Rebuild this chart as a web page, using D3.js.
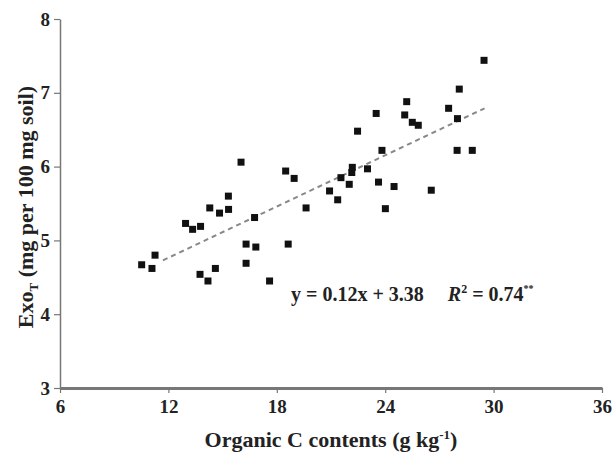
<!DOCTYPE html>
<html>
<head>
<meta charset="utf-8">
<script src="https://cdn.jsdelivr.net/npm/d3@7"></script>
<style>
  body { margin: 0; background: #fff; }
  text { font-family: "Liberation Serif", "Times New Roman", serif; font-weight: bold; }
</style>
</head>
<body>
<div id="plot"></div>
<script>
// Organic C (g/kg) vs Exo_T (mg per 100 mg soil)
var organicC = [10.52, 11.09, 11.26, 12.95, 13.34, 13.78, 13.75, 14.19, 14.60, 14.29,
                14.83, 15.33, 15.32, 16.02, 16.77, 16.30, 16.84, 16.30, 17.60, 18.63,
                18.49, 18.96, 19.62, 20.92, 21.37, 21.55, 22.01, 22.18, 22.15, 23.02,
                23.63, 24.49, 22.47, 23.82, 24.01, 26.55, 23.50, 25.08, 25.19, 25.50,
                25.83, 27.51, 28.00, 28.10, 29.47, 27.98, 28.82];
var exoT     = [4.67, 4.62, 4.80, 5.23, 5.15, 5.19, 4.54, 4.45, 4.62, 5.44,
                5.37, 5.42, 5.60, 6.06, 5.31, 4.95, 4.91, 4.69, 4.45, 4.95,
                5.94, 5.84, 5.44, 5.67, 5.55, 5.85, 5.76, 5.99, 5.92, 5.97,
                5.79, 5.73, 6.48, 6.22, 5.43, 5.68, 6.72, 6.70, 6.88, 6.60,
                6.56, 6.79, 6.65, 7.05, 7.44, 6.22, 6.22];
// fitted line as drawn (ends)
var fitX = [11.7, 29.5];
var fitY = [4.73, 6.79];
var xTicks = [6, 12, 18, 24, 30, 36];
var yTicks = [3, 4, 5, 6, 7, 8];

var width = 615, height = 455;
var margin = {top: 19, right: 13, bottom: 67, left: 60};

var svg = d3.select("#plot")
  .append("svg")
    .attr("width", width)
    .attr("height", height);

var x = d3.scaleLinear().domain([6, 36]).range([margin.left, width - margin.right]);
var y = d3.scaleLinear().domain([3, 8]).range([height - margin.bottom, margin.top]);

// Y axis
var yAxis = svg.append("g")
  .attr("transform", `translate(${margin.left},0)`)
  .call(d3.axisLeft(y).tickValues(yTicks).tickFormat(d3.format("d"))
    .tickSize(6).tickSizeOuter(0).tickPadding(4));
yAxis.select(".domain").attr("stroke", "#777").attr("stroke-width", 1.5);
yAxis.selectAll(".tick line").attr("stroke", "#777").attr("stroke-width", 1.2);
yAxis.selectAll(".tick text")
  .style("font-family", "Liberation Serif")
  .style("font-weight", "bold")
  .style("font-size", "19px")
  .attr("fill", "#222");

// X axis
var xAxis = svg.append("g")
  .attr("transform", `translate(0,${height - margin.bottom})`)
  .call(d3.axisBottom(x).tickValues(xTicks).tickFormat(d3.format("d"))
    .tickSize(5).tickSizeOuter(0).tickPadding(7));
xAxis.select(".domain").attr("stroke", "#777").attr("stroke-width", 3);
xAxis.selectAll(".tick line").attr("stroke", "#777").attr("stroke-width", 1.2);
xAxis.selectAll(".tick text")
  .style("font-family", "Liberation Serif")
  .style("font-weight", "bold")
  .style("font-size", "19px")
  .attr("fill", "#222");

// Trend line
svg.append("path")
  .datum(d3.zip(fitX, fitY))
  .attr("fill", "none")
  .attr("stroke", "#888")
  .attr("stroke-width", 2)
  .attr("stroke-dasharray", "5,4")
  .attr("d", d3.line().x(d => x(d[0])).y(d => y(d[1])));

// Points
var pts = d3.zip(organicC, exoT);
var s = 7;
svg.selectAll(".dot")
  .data(pts)
  .enter()
  .append("rect")
    .attr("class", "dot")
    .attr("x", d => x(d[0]) - s / 2)
    .attr("y", d => y(d[1]) - s / 2)
    .attr("width", s)
    .attr("height", s)
    .attr("fill", "#111");

// Equation
var eq = svg.append("text")
  .attr("x", 291)
  .attr("y", 301)
  .style("font-size", "20px")
  .attr("fill", "#222");
eq.append("tspan").text("y = 0.12x + 3.38");
eq.append("tspan").attr("dx", 24).style("font-style", "italic").text("R");
eq.append("tspan").attr("dy", -8).style("font-size", "12px").text("2");
eq.append("tspan").attr("dy", 8).text(" = 0.74");
eq.append("tspan").attr("dy", -9).style("font-size", "10px").text("**");

// X label
var xl = svg.append("text")
  .attr("x", 331)
  .attr("y", 447)
  .attr("text-anchor", "middle")
  .style("font-size", "22px")
  .attr("fill", "#222");
xl.append("tspan").text("Organic C contents (g kg");
xl.append("tspan").attr("dy", -8).style("font-size", "13px").text("-1");
xl.append("tspan").attr("dy", 8).text(")");

// Y label
var yl = svg.append("text")
  .attr("transform", "translate(33,207) rotate(-90)")
  .attr("text-anchor", "middle")
  .style("font-size", "22px")
  .attr("fill", "#222");
yl.append("tspan").text("Exo");
yl.append("tspan").attr("dy", 5).style("font-size", "13px").text("T");
yl.append("tspan").attr("dy", -5).text(" (mg per 100 mg soil)");
</script>
</body>
</html>
